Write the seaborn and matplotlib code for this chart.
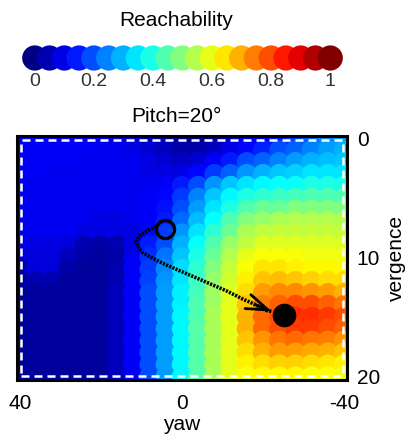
import numpy as np
import pandas as pd
import matplotlib
matplotlib.use('Agg')
import matplotlib.pyplot as plt
import seaborn as sns
from matplotlib.patches import Rectangle
from matplotlib.colors import LinearSegmentedColormap

sns.set_theme(style='white')
plt.rcParams['font.family'] = ['Liberation Sans', 'DejaVu Sans']
plt.rcParams['text.color'] = 'black'
plt.rcParams['axes.labelcolor'] = 'black'
plt.rcParams['xtick.color'] = 'black'
plt.rcParams['ytick.color'] = 'black'

# ---------------- data ----------------
yaw = [40, 36, 32, 28, 24, 20, 16, 12, 8, 4, 0, -4, -8, -12, -16, -20, -24, -28, -32, -36, -40]
vergence = list(range(0, 21))
reach = [
    [0.12,0.12,0.12,0.12,0.12,0.11,0.10,0.09,0.07,0.05,0.03,0.02,0.03,0.06,0.10,0.12,0.15,0.18,0.22,0.26,0.28],
    [0.12,0.12,0.12,0.12,0.12,0.11,0.11,0.10,0.08,0.06,0.04,0.04,0.06,0.10,0.13,0.16,0.20,0.22,0.25,0.28,0.30],
    [0.12,0.12,0.12,0.12,0.11,0.11,0.11,0.11,0.10,0.08,0.07,0.08,0.12,0.15,0.20,0.22,0.25,0.28,0.30,0.31,0.32],
    [0.12,0.12,0.11,0.11,0.11,0.11,0.11,0.11,0.10,0.10,0.10,0.13,0.18,0.22,0.27,0.30,0.32,0.33,0.35,0.35,0.35],
    [0.11,0.11,0.11,0.11,0.11,0.11,0.11,0.11,0.11,0.12,0.15,0.20,0.27,0.32,0.35,0.37,0.38,0.38,0.40,0.40,0.40],
    [0.11,0.11,0.11,0.11,0.11,0.11,0.11,0.11,0.12,0.13,0.18,0.25,0.32,0.37,0.40,0.42,0.43,0.44,0.45,0.45,0.45],
    [0.11,0.11,0.11,0.11,0.11,0.11,0.11,0.11,0.12,0.14,0.20,0.28,0.35,0.40,0.45,0.48,0.48,0.50,0.50,0.50,0.50],
    [0.11,0.11,0.11,0.11,0.11,0.10,0.10,0.11,0.12,0.15,0.23,0.31,0.38,0.45,0.50,0.52,0.54,0.55,0.55,0.55,0.55],
    [0.11,0.11,0.11,0.11,0.10,0.10,0.10,0.10,0.13,0.18,0.27,0.35,0.42,0.48,0.54,0.56,0.57,0.57,0.57,0.57,0.57],
    [0.10,0.10,0.10,0.09,0.05,0.04,0.05,0.10,0.15,0.20,0.30,0.38,0.45,0.52,0.56,0.59,0.59,0.59,0.59,0.59,0.59],
    [0.09,0.09,0.09,0.06,0.04,0.03,0.04,0.11,0.17,0.24,0.32,0.40,0.48,0.55,0.60,0.62,0.62,0.62,0.61,0.61,0.61],
    [0.04,0.09,0.09,0.04,0.03,0.03,0.05,0.12,0.18,0.26,0.34,0.42,0.50,0.57,0.62,0.65,0.65,0.64,0.63,0.63,0.63],
    [0.03,0.05,0.05,0.03,0.03,0.03,0.05,0.12,0.19,0.27,0.35,0.43,0.52,0.58,0.64,0.68,0.69,0.68,0.67,0.66,0.66],
    [0.03,0.03,0.03,0.03,0.03,0.03,0.06,0.12,0.20,0.28,0.36,0.44,0.53,0.59,0.66,0.72,0.74,0.74,0.73,0.72,0.70],
    [0.03,0.03,0.03,0.03,0.03,0.03,0.06,0.12,0.20,0.28,0.36,0.45,0.53,0.60,0.68,0.75,0.78,0.80,0.80,0.78,0.76],
    [0.03,0.03,0.03,0.03,0.03,0.03,0.06,0.12,0.20,0.28,0.37,0.45,0.54,0.60,0.70,0.77,0.80,0.83,0.83,0.82,0.80],
    [0.03,0.03,0.03,0.03,0.03,0.03,0.06,0.12,0.20,0.28,0.37,0.46,0.54,0.60,0.70,0.77,0.80,0.82,0.82,0.80,0.78],
    [0.03,0.03,0.03,0.03,0.03,0.03,0.06,0.12,0.20,0.28,0.37,0.46,0.54,0.60,0.68,0.73,0.76,0.77,0.76,0.75,0.73],
    [0.03,0.03,0.03,0.03,0.03,0.03,0.06,0.12,0.20,0.28,0.37,0.46,0.54,0.60,0.66,0.70,0.72,0.72,0.71,0.70,0.68],
    [0.03,0.03,0.03,0.03,0.03,0.03,0.06,0.12,0.20,0.28,0.37,0.46,0.54,0.60,0.64,0.66,0.67,0.67,0.66,0.65,0.64],
    [0.03,0.03,0.03,0.03,0.03,0.03,0.06,0.12,0.20,0.28,0.37,0.46,0.54,0.60,0.62,0.63,0.63,0.63,0.62,0.62,0.61],
]

# trajectory (yaw, vergence)
path_yaw = [6.4, 8.8, 10.6, 11.3, 10.9, 9.7, 7.6, 4.7, 1.4, -2.7, -6.8, -10.9, -15.0, -18.3, -20.7, -22.2]
path_verg = [7.4, 7.8, 8.2, 8.7, 9.1, 9.6, 10.0, 10.5, 11.0, 11.6, 12.2, 12.8, 13.5, 14.0, 14.45, 14.55]
start_point = (4.1, 7.6)
end_point = (-25.1, 14.8)

cb_values = [0.0, 0.05, 0.1, 0.15, 0.2, 0.25, 0.3, 0.35, 0.4, 0.45, 0.5,
             0.55, 0.6, 0.65, 0.7, 0.75, 0.8, 0.85, 0.9, 0.95, 1.0]
cb_ticks = [0, 0.2, 0.4, 0.6, 0.8, 1.0]
cb_ticklabels = ['0', '0.2', '0.4', '0.6', '0.8', '1']
x_ticks = [40, 0, -40]
y_ticks = [0, 10, 20]

# MATLAB-style jet
mjet = LinearSegmentedColormap.from_list('mjet', [
    (0.0, (0, 0, 0.5)), (0.125, (0, 0, 1)), (0.375, (0, 1, 1)),
    (0.625, (1, 1, 0)), (0.875, (1, 0, 0)), (1.0, (0.5, 0, 0))])

rows = []
for i, v in enumerate(vergence):
    for j, y in enumerate(yaw):
        rows.append({'yaw': y, 'vergence': v, 'reach': reach[i][j]})
df = pd.DataFrame(rows)

W, H = 411, 436
fig = plt.figure(figsize=(W / 100, H / 100), dpi=100)

# ---------------- colorbar of circles ----------------
cax = fig.add_axes([20 / W, 1 - 72 / H, 325 / W, 28 / H])
sns.scatterplot(x=cb_values, y=[0] * len(cb_values), hue=cb_values, palette=mjet,
                hue_norm=(0, 1), s=330, linewidth=0, legend=False, ax=cax, clip_on=False)
cax.set_xlim(-0.05, 1.05)
cax.set_ylim(-1, 1)
for s in cax.spines.values():
    s.set_visible(False)
cax.set_xticks(cb_ticks)
cax.set_xticklabels(cb_ticklabels)
cax.set_yticks([])
cax.tick_params(axis='x', length=0, pad=1, labelsize=14, labelcolor='#333333')
cax.set_xlabel('')
cax.set_ylabel('')
cax.patch.set_alpha(0)
fig.text(176 / W, 1 - 21 / H, 'Reachability', ha='center', va='center', fontsize=15)

# ---------------- main map ----------------
ax = fig.add_axes([17 / W, 1 - 380 / H, 330 / W, 244 / H])
sns.scatterplot(data=df, x='yaw', y='vergence', hue='reach', palette=mjet, hue_norm=(0, 1),
                s=215, linewidth=0, marker='o', legend=False, ax=ax)
ax.set_xlim(40.7, -40.7)
ax.set_ylim(20.3, -0.2)

ax.add_patch(Rectangle((0.012, 0.016), 0.976, 0.968, transform=ax.transAxes, fill=False,
                       ec='white', lw=1.8, ls=(0, (3.2, 2.0)), zorder=3))

sns.lineplot(x=path_yaw, y=path_verg, sort=False, estimator=None, color='black',
             lw=2.6, ax=ax, zorder=4)
ax.lines[-1].set_linestyle((0, (0.6, 0.35)))
ax.annotate('', xy=(path_yaw[-1], path_verg[-1]), xytext=(path_yaw[-3], path_verg[-3]),
            arrowprops=dict(arrowstyle='->,head_length=1.3,head_width=0.45', color='black',
                            lw=2.0, shrinkA=0, shrinkB=0, linestyle=(0, (1.0, 0.5))), zorder=5)
ax.plot([start_point[0]], [start_point[1]], marker='o', ms=13, mfc='none', mec='black', mew=2.4,
        zorder=6)
ax.plot([end_point[0]], [end_point[1]], marker='o', ms=16, mfc='black', mec='black', zorder=6)

for s in ax.spines.values():
    s.set_visible(True)
    s.set_color('black')
    s.set_linewidth(2.2)
    s.set_zorder(7)

ax.set_xticks(x_ticks)
ax.set_xticklabels([str(t) for t in x_ticks])
ax.set_yticks(y_ticks)
ax.set_yticklabels([str(t) for t in y_ticks])
ax.yaxis.tick_right()
ax.yaxis.set_label_position('right')
ax.tick_params(axis='both', length=0, labelsize=15, colors='black')
ax.tick_params(axis='x', pad=10)
ax.tick_params(axis='y', pad=7)
ax.set_xlabel('yaw', fontsize=15, labelpad=1.5)
ax.set_ylabel('vergence', fontsize=15, labelpad=5)
fig.text(176 / W, 1 - 117 / H, 'Pitch=20\u00b0', ha='center', va='center', fontsize=15)

fig.savefig('out.png', dpi=100)
